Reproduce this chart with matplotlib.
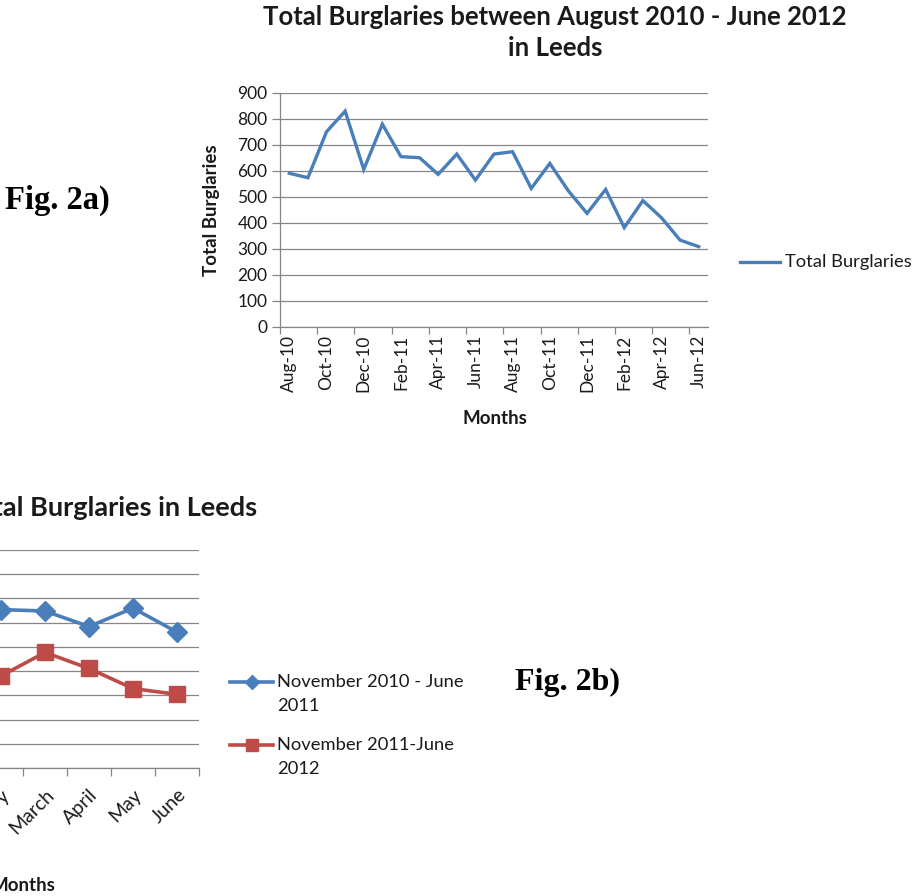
import matplotlib
matplotlib.use("Agg")
import matplotlib.pyplot as plt
from matplotlib.lines import Line2D

plt.rcParams['font.family'] = ['Lato', 'DejaVu Sans']

# ---------------- data ----------------
months_a = ["Aug-10", "Sep-10", "Oct-10", "Nov-10", "Dec-10", "Jan-11", "Feb-11", "Mar-11",
            "Apr-11", "May-11", "Jun-11", "Jul-11", "Aug-11", "Sep-11", "Oct-11", "Nov-11",
            "Dec-11", "Jan-12", "Feb-12", "Mar-12", "Apr-12", "May-12", "Jun-12"]
burglaries_a = [590, 573, 750, 829, 605, 779, 654, 650, 586, 664, 564, 664, 673, 532,
                628, 522, 436, 528, 381, 485, 419, 333, 308]

months_b = ["November", "December", "January", "February", "March", "April", "May", "June"]
series_b1 = [829, 605, 779, 654, 648, 584, 660, 561]
series_b2 = [522, 436, 528, 380, 477, 411, 328, 304]
label_b1 = ["November 2010 - June", "2011"]
label_b2 = ["November 2011-June", "2012"]

W, H = 916, 896
fig = plt.figure(figsize=(W / 100, H / 100), dpi=100)

def fx(px):
    return px / W

def fy(py):
    return 1 - py / H

BLUE = "#4A7EBB"
RED = "#BE4B48"
GRID = "#868686"
TXT = "#1a1a1a"
TICK_FS = 12.5
LEG_FS = 13.2
TITLE_FS = 18.5
AX_FS = 13.5

# ---------------- Fig 2a ----------------
ax = fig.add_axes([fx(280), fy(326.7), fx(708) - fx(280), fy(92.7) - fy(326.7)])
x = list(range(len(months_a)))
ax.plot(x, burglaries_a, color=BLUE, lw=2.4, solid_joinstyle='miter')
ax.set_xlim(-0.5, len(months_a) - 0.5)
ax.set_ylim(0, 900)
ax.set_yticks(range(0, 901, 100))
ax.yaxis.grid(True, color=GRID, lw=0.9)
ax.set_axisbelow(True)
for s in ["top", "right"]:
    ax.spines[s].set_visible(False)
for s in ["left", "bottom"]:
    ax.spines[s].set_color(GRID)
    ax.spines[s].set_linewidth(0.9)
ax.set_xticks(x[::2])
ax.set_xticklabels(months_a[::2], rotation=90, fontsize=TICK_FS, color=TXT)
ax.set_xticks([i - 0.5 for i in range(0, len(months_a), 2)], minor=True)
ax.tick_params(axis='x', which='major', length=0, pad=6)
ax.tick_params(axis='x', which='minor', length=5, color=GRID, width=0.9)
ax.tick_params(axis='y', length=6, color=GRID, width=0.9, labelsize=TICK_FS,
               labelcolor=TXT, pad=3)
ax.set_ylabel("Total Burglaries", fontsize=AX_FS, fontweight='bold', color=TXT)
ax.yaxis.set_label_coords((212 - 280) / 428, 0.5)
ax.set_xlabel("Months", fontsize=AX_FS, fontweight='bold', color=TXT)
ax.xaxis.set_label_coords((495 - 280) / 428, (326.7 - 418) / 234)
ax.xaxis.label.set_va('center')
ax.yaxis.label.set_va('center')
fig.text(fx(555), fy(17), "Total Burglaries between August 2010 - June 2012",
         ha='center', va='center', fontsize=TITLE_FS, fontweight='bold', color=TXT)
fig.text(fx(555), fy(48), "in Leeds", ha='center', va='center', fontsize=TITLE_FS,
         fontweight='bold', color=TXT)
# legend
fig.add_artist(Line2D([fx(740), fx(780)], [fy(262), fy(262)], color=BLUE, lw=2.4))
fig.text(fx(785), fy(262), "Total Burglaries", ha='left', va='center', fontsize=LEG_FS,
         color=TXT)
fig.text(fx(5), fy(200), "Fig. 2a)", ha='left', va='center', fontsize=23.5,
         fontweight='bold', family='Liberation Serif', color='black')

# ---------------- Fig 2b ----------------
bx = fig.add_axes([fx(-153), fy(768), fx(199) - fx(-153), fy(550) - fy(768)])
xb = list(range(len(months_b)))
bx.plot(xb, series_b1, color=BLUE, lw=2.6, marker='D', ms=10, mec=BLUE, mfc=BLUE)
bx.plot(xb, series_b2, color=RED, lw=2.6, marker='s', ms=11, mec=RED, mfc=RED)
bx.set_xlim(-0.5, len(months_b) - 0.5)
bx.set_ylim(0, 900)
bx.set_yticks(range(0, 901, 100))
bx.yaxis.grid(True, color=GRID, lw=0.9)
bx.set_axisbelow(True)
for s in ["top", "right"]:
    bx.spines[s].set_visible(False)
for s in ["left", "bottom"]:
    bx.spines[s].set_color(GRID)
    bx.spines[s].set_linewidth(0.9)
bx.set_xticks(xb)
bx.set_xticklabels(months_b, rotation=45, ha='right', rotation_mode='anchor',
                   fontsize=14, color=TXT)
bx.set_xticks([i + 0.5 for i in xb], minor=True)
bx.tick_params(axis='x', which='major', length=0, pad=13)
bx.tick_params(axis='x', which='minor', length=6, color=GRID, width=0.9)
bx.tick_params(axis='y', length=6, color=GRID, width=0.9, labelsize=TICK_FS,
               labelcolor=TXT)
fig.text(fx(23), fy(885), "Months", ha='center', va='center', fontsize=AX_FS,
         fontweight='bold', color=TXT)
fig.text(fx(257), fy(508), "Total Burglaries in Leeds", ha='right', va='center',
         fontsize=19.5, fontweight='bold', color=TXT)
# legend
for (yy, col, mk, ms, lab) in [(682, BLUE, 'D', 7, label_b1), (745, RED, 's', 9, label_b2)]:
    fig.add_artist(Line2D([fx(230), fx(251.5), fx(273)], [fy(yy)] * 3, color=col, lw=2.6,
                          marker=mk, ms=ms, markevery=[1], mec=col, mfc=col))
    fig.text(fx(277), fy(yy), lab[0], ha='left', va='center', fontsize=LEG_FS, color=TXT)
    fig.text(fx(277), fy(yy + 24), lab[1], ha='left', va='center', fontsize=LEG_FS, color=TXT)
fig.text(fx(515), fy(682), "Fig. 2b)", ha='left', va='center', fontsize=23,
         fontweight='bold', family='Liberation Serif', color='black')

fig.savefig("out.png", dpi=100)
